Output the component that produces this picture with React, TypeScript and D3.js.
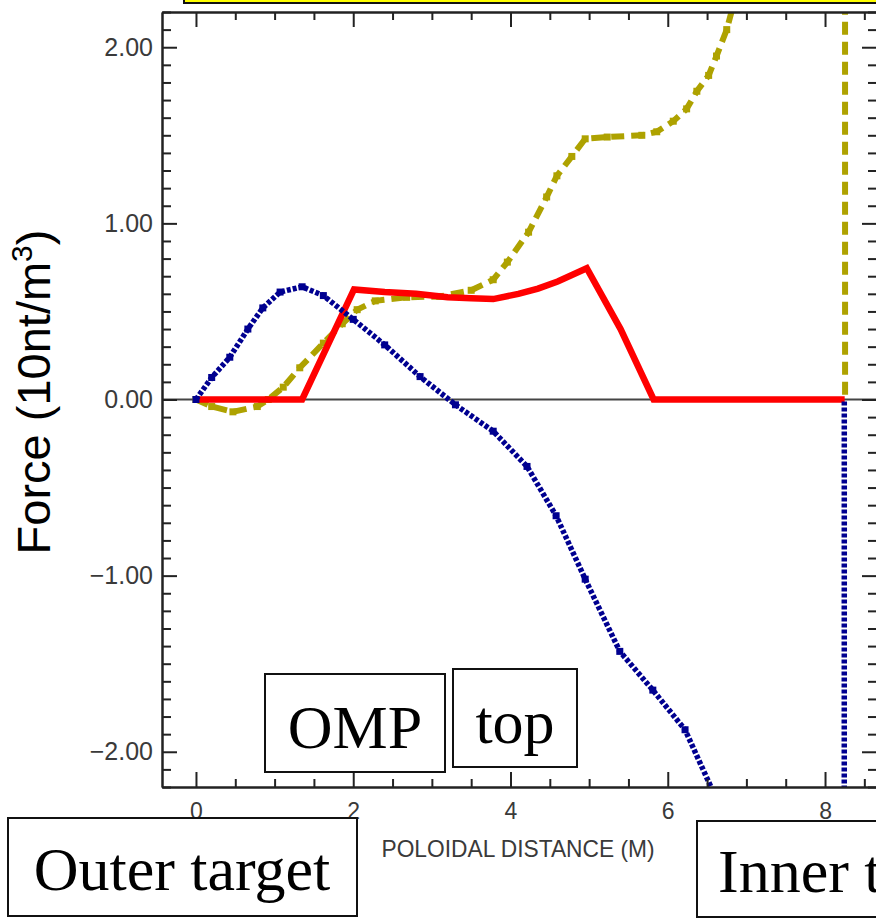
import React, { useEffect, useRef } from "react"
import { scaleLinear, line, range, select, axisBottom, axisTop, axisLeft, axisRight, format } from "d3"

// red: solid force curve
const redX = [0, 0.3, 0.6, 0.9, 1.35, 2.01, 2.4, 2.8, 3.2, 3.5, 3.78, 4.1, 4.35, 4.6, 4.97, 5.4, 5.82, 6.3, 6.8, 7.2, 7.6, 7.9, 8.25]
const redY = [0, 0, 0, 0, 0, 0.625, 0.61, 0.6, 0.58, 0.575, 0.57, 0.6, 0.63, 0.67, 0.745, 0.4, 0, 0, 0, 0, 0, 0, 0]

// blue: dotted curve
const blueX = [0, 0.2, 0.43, 0.66, 0.85, 1.07, 1.35, 1.62, 2.0, 2.4, 2.85, 3.3, 3.78, 4.21, 4.58, 4.95, 5.39, 5.81, 6.22, 6.6, 7.2, 7.8, 8.24, 8.245]
const blueY = [0, 0.125, 0.24, 0.4, 0.52, 0.61, 0.64, 0.59, 0.455, 0.31, 0.13, -0.03, -0.18, -0.38, -0.66, -1.02, -1.43, -1.65, -1.875, -2.25, -3.6, -6.0, -30, 0]

// yellow: dashed curve
const yellowX = [0, 0.2, 0.47, 0.78, 0.92, 1.11, 1.32, 1.62, 1.86, 2.05, 2.28, 2.68, 3.1, 3.5, 3.78, 3.96, 4.23, 4.46, 4.59, 4.78, 4.95, 5.23, 5.67, 5.86, 6.07, 6.24, 6.37, 6.52, 6.62, 6.75, 6.9, 7.3, 8.25, 8.255]
const yellowY = [0, -0.04, -0.07, -0.04, 0, 0.07, 0.18, 0.32, 0.43, 0.51, 0.56, 0.58, 0.585, 0.62, 0.68, 0.78, 0.95, 1.15, 1.27, 1.38, 1.48, 1.49, 1.5, 1.52, 1.58, 1.65, 1.75, 1.84, 1.95, 2.1, 2.35, 3.0, 30, 0]

const xTickLabels = [0, 2, 4, 6, 8]
const yTickLabels = [-2, -1, 0, 1, 2]
const xTitle = "POLOIDAL DISTANCE (M)"

const toPoints = (xs: number[], ys: number[]) => xs.map((x, i) => ({ x, y: ys[i] }))

export default function App() {
	const width = 876
	const height = 920

	/** plot frame */
	const left = 162
	const right = 877
	const top = 12
	const bottom = 787

	const xScale = scaleLinear().domain([-0.432, 8.661]).range([left, right])
	const yScale = scaleLinear().domain([-2.2, 2.2]).range([bottom, top])

	const xMinor = range(0, 8.6, 0.5).filter(v => v % 2 !== 0)
	const yMinor = range(-22, 23, 1).map(v => v / 10).filter(v => Math.abs(v - Math.round(v)) > 0.01)

	const path = line<{ x: number; y: number }>()
		.x(d => xScale(d.x))
		.y(d => yScale(d.y))

	const red = toPoints(redX, redY)
	const blue = toPoints(blueX, blueY)
	const yellow = toPoints(yellowX, yellowY)

	const bottomRef = useRef<SVGGElement>(null)
	const topRef = useRef<SVGGElement>(null)
	const leftRef = useRef<SVGGElement>(null)
	const rightRef = useRef<SVGGElement>(null)

	useEffect(() => {
		const style = (g: any) => {
			g.selectAll(".domain").attr("stroke", "#222").attr("stroke-width", 2)
			g.selectAll(".tick line").attr("stroke", "#222").attr("stroke-width", 2)
			g.selectAll("text").attr("font-family", "'Liberation Sans', Arial, sans-serif").attr("fill", "#3a3a3a")
		}

		/** bottom: minor + major with labels */
		const b = select(bottomRef.current)
		b.selectAll("*").remove()
		b.append("g").call(axisBottom(xScale).tickValues(xMinor).tickSizeInner(-8).tickSizeOuter(0).tickFormat(() => "")).call(style)
		b.append("g").call(axisBottom(xScale).tickValues(xTickLabels).tickSizeInner(-15).tickSizeOuter(0).tickPadding(20).tickFormat(format("d"))).call(style)
		b.selectAll("text").attr("font-size", 23).attr("dy", "0.5em")

		/** top: ticks only */
		const t = select(topRef.current)
		t.selectAll("*").remove()
		t.append("g").call(axisTop(xScale).tickValues(xMinor).tickSizeInner(-8).tickSizeOuter(0).tickFormat(() => "")).call(style)
		t.append("g").call(axisTop(xScale).tickValues(xTickLabels).tickSizeInner(-15).tickSizeOuter(0).tickFormat(() => "")).call(style)

		/** left: minor + major with labels */
		const l = select(leftRef.current)
		l.selectAll("*").remove()
		l.append("g").call(axisLeft(yScale).tickValues(yMinor).tickSizeInner(-9).tickSizeOuter(0).tickFormat(() => "")).call(style)
		l.append("g").call(axisLeft(yScale).tickValues(yTickLabels).tickSizeInner(-15).tickSizeOuter(0).tickPadding(9).tickFormat(format(".2f"))).call(style)
		l.selectAll("text").attr("font-size", 25)

		/** right: ticks only */
		const r = select(rightRef.current)
		r.selectAll("*").remove()
		r.append("g").call(axisRight(yScale).tickValues(yMinor).tickSizeInner(-9).tickSizeOuter(0).tickFormat(() => "")).call(style)
		r.append("g").call(axisRight(yScale).tickValues(yTickLabels).tickSizeInner(-15).tickSizeOuter(0).tickFormat(() => "")).call(style)
	}, [])

	const box = { fill: "white", stroke: "#111", strokeWidth: 2 }
	const serif = "'Liberation Serif', 'Times New Roman', serif"

	return (
		<svg width={width} height={height} style={{ position: "absolute", left: 0, top: 0, background: "white" }}>
			<defs>
				<clipPath id="plot-area">
					<rect x={left} y={top} width={right - left} height={bottom - top} />
				</clipPath>
			</defs>

			{/* yellow banner cut off at the top */}
			<rect x={184} y={-40} width={760} height={43} fill="#ffff00" stroke="#111" strokeWidth={2} />

			{/* zero line */}
			<line x1={left} x2={right} y1={yScale(0)} y2={yScale(0)} stroke="#444" strokeWidth={2} />

			<g clipPath="url(#plot-area)">
				<path d={path(yellow) ?? ""} fill="none" stroke="#aea200" strokeWidth={6} strokeDasharray="13,7" />
				{yellow.slice(0, -2).map((d, i) => (
					<rect key={i} x={xScale(d.x) - 3.5} y={yScale(d.y) - 3.5} width={7} height={7} fill="#aea200" />
				))}
				<path d={path(red) ?? ""} fill="none" stroke="#ff0000" strokeWidth={6.5} strokeLinejoin="miter" />
				<path d={path(blue) ?? ""} fill="none" stroke="#000090" strokeWidth={5.5} strokeDasharray="4,2" />
				{blue.slice(0, -2).map((d, i) => (
					<rect key={i} x={xScale(d.x) - 3.5} y={yScale(d.y) - 3.5} width={7} height={7} fill="#000090" />
				))}
			</g>

			<g ref={bottomRef} transform={`translate(0, ${bottom})`} />
			<g ref={topRef} transform={`translate(0, ${top})`} />
			<g ref={leftRef} transform={`translate(${left}, 0)`} />
			<g ref={rightRef} transform={`translate(${right}, 0)`} />

			{/* axis titles */}
			<text x={518} y={857} fontSize={24} fill="#3a3a3a" fontFamily="'Liberation Sans', Arial, sans-serif" textAnchor="middle" textLength={273} lengthAdjust="spacingAndGlyphs">
				{xTitle}
			</text>
			<text transform="translate(50, 392) rotate(-90)" fontSize={47} fill="#000" fontFamily="'Liberation Sans', Arial, sans-serif" textAnchor="middle">
				Force (10nt/m<tspan dy={-18} fontSize={30}>3</tspan><tspan dy={18}>)</tspan>
			</text>

			{/* annotation boxes */}
			<rect x={265} y={674} width={180} height={98} {...box} />
			<text x={355} y={748} fontSize={62} fontFamily={serif} textAnchor="middle">OMP</text>
			<rect x={453} y={669} width={124} height={98} {...box} />
			<text x={515} y={743} fontSize={62} fontFamily={serif} textAnchor="middle">top</text>
			<rect x={8} y={818} width={349} height={98} {...box} />
			<text x={182} y={890} fontSize={62} fontFamily={serif} textAnchor="middle">Outer target</text>
			<rect x={697} y={821} width={340} height={96} {...box} />
			<text x={718} y={892} fontSize={62} fontFamily={serif}>Inner target</text>
		</svg>
	)
}
